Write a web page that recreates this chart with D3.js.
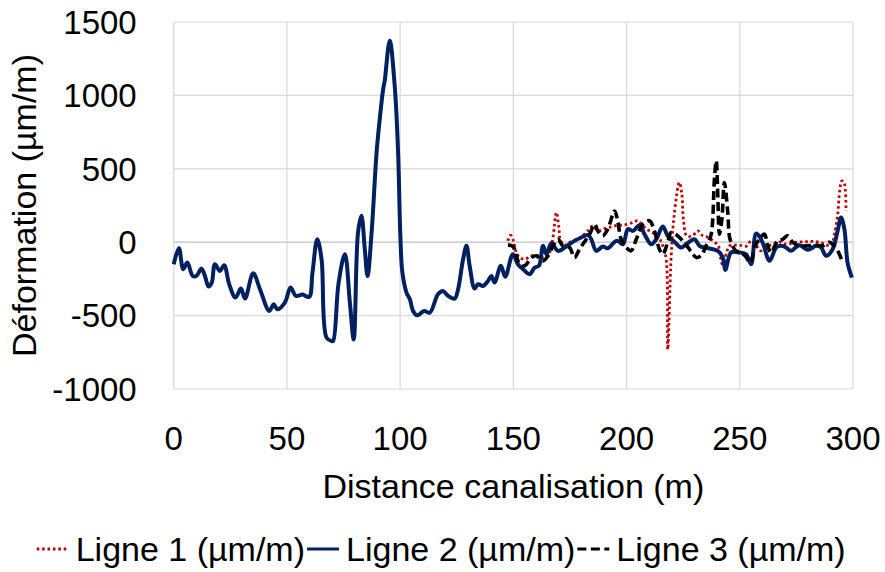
<!DOCTYPE html>
<html>
<head>
<meta charset="utf-8">
<script src="https://cdn.jsdelivr.net/npm/d3@7"></script>
<style>
  body { margin: 0; background: #fff; }
  svg { display: block; font-family: "Liberation Sans", Arial, sans-serif; }
</style>
</head>
<body>
<div id="chart"></div>
<script>
// tick labels
const xTicks = [0, 50, 100, 150, 200, 250, 300];
const yTicks = [-1000, -500, 0, 500, 1000, 1500];

const seriesNames = ["Ligne 1 (µm/m)", "Ligne 2 (µm/m)", "Ligne 3 (µm/m)"];

// [distance (m), déformation (µm/m)]
const ligne1 = [
  [147.6, 9], [148.7, 48], [149.8, 20], [151.3, -70], [152.8, -105], [155, -116],
  [157.2, -100], [159.4, -89], [161.6, -98], [163.8, -109], [166, -70], [167.5, 32],
  [169, 203], [170.1, 100], [170.7, 20], [172.6, -20], [174.8, -2], [177, 14],
  [179.2, 25], [182.9, 77], [185.1, 111], [187.3, 77], [190.2, 92], [193.9, 107],
  [196.1, 116], [198.4, 116], [202.8, 134], [205, 146], [207.2, 112], [210.1, 77],
  [213.8, 43], [216, -25], [217.5, -116], [218.2, -730], [219.7, -93], [221, 180],
  [223.3, 407], [224.4, 330], [225.1, 157], [226.6, 43], [229, 43], [231.5, 77],
  [233.7, 43], [235.9, 34], [238.2, 9], [240.5, -25], [242.3, -150], [245.5, -25],
  [247.7, -20], [249.9, -20], [252.8, -28], [255, 9], [257.2, -22], [259.4, -59],
  [261.6, -34], [264.5, -14], [267.5, 2], [270.4, -14], [274.8, 0], [279.2, 3],
  [282.9, 5], [286.6, -6], [290.3, -25], [291.8, 55], [293.2, 180], [294.2, 361],
  [295.1, 418], [296.1, 405], [296.9, 213]
];

const ligne2 = [
  [0, -150], [2.3, -41], [4.2, -184], [6, -139], [8.4, -230], [10, -230],
  [12.3, -180], [13.8, -230], [15.4, -302], [16.8, -275], [18.2, -150], [20.4, -196],
  [22.3, -157], [24.5, -286], [27.3, -377], [29.7, -316], [31.5, -384], [35.1, -211],
  [38.1, -320], [42.2, -468], [44.2, -423], [45.7, -457], [49.1, -411], [51.6, -309],
  [54, -366], [56.9, -357], [59.8, -373], [61.3, -207], [63.4, 20], [65.3, -116],
  [67.5, -650], [69.7, -673], [70.4, -673], [72.8, -280], [75.6, -82], [77.8, -411],
  [79.5, -662], [81.4, 66], [82.9, 180], [84.4, -48], [85.6, -230], [87.4, 66],
  [89.6, 612], [91, 839], [92.5, 1043], [93.2, 1100], [95.4, 1373], [97.6, 1066],
  [99.1, 612], [100.1, 43], [101, -207], [102.8, -343], [104.3, -389], [105.7, -468],
  [107.6, -498], [110.6, -468], [113.1, -480], [116.7, -355], [118.9, -332], [121.2, -366],
  [124.1, -384], [125.6, -320], [127.8, -116], [129.3, -25], [130.7, -161], [132.9, -316],
  [134.4, -286], [136.6, -298], [138.8, -264], [140.3, -230], [141.7, -275], [144.5, -160],
  [146.4, -235], [149.8, -82], [152, -150], [154.3, -184], [157.2, -218], [159.4, -173],
  [161.3, -161], [163.1, -25], [164.6, -82], [166.8, -7], [169.7, -59], [173.4, -28],
  [177, 9], [180, 32], [182.9, 48], [184.4, 20], [186.6, -59], [189.5, -29],
  [191.7, -41], [194.7, 2], [196.1, 9], [198.4, -14], [200.6, 89], [202.8, 77],
  [205.7, 116], [207.9, 55], [210.9, -14], [213.1, 20], [216, 107], [218.2, 43],
  [221, 5], [224.1, -36], [226.3, -14], [230, 20], [232.2, -25], [234.4, -36],
  [236.6, -43], [240.3, -59], [242.5, -105], [243.6, -190], [246.2, -70], [249.9, -70],
  [252.8, -82], [255, -150], [257.2, 59], [259, 32], [260.6, -25], [263.1, -127],
  [266.2, -34], [268.2, -25], [270.4, -36], [272.6, -59], [276.3, -20], [280, -52],
  [283.7, -25], [285.9, -36], [288.1, -93], [291, -48], [293.2, 77], [294.7, 168],
  [296.2, 89], [297.6, -139], [299.5, -241]
];

const ligne3 = [
  [147.6, -20], [149.8, -28], [152.8, -150], [155, -161], [158, -105], [160.2, -93],
  [163.1, -127], [165.3, -93], [167.5, -25], [169.7, 20], [171.9, -25], [174.8, -36],
  [177, -105], [179.2, -48], [182.2, 20], [183.7, 55], [185.9, 123], [187.3, 77],
  [189.5, 43], [191.7, 89], [194.7, 213], [196.1, 146], [197.6, 20], [199.9, -36],
  [202, -59], [204.3, 20], [207.2, 123], [210.1, 146], [212.3, 77], [214.5, -48],
  [216, -82], [218.2, 0], [219.7, 66], [222.6, 43], [226.6, -25], [228.8, -70],
  [230.8, -105], [233, -90], [235.1, -25], [237.2, 43], [238.8, 430], [239.6, 555],
  [240.3, 316], [241, 55], [242.1, 157], [243.2, 407], [244.7, 203], [245.7, 20],
  [248.3, -59], [249.9, -66], [252.4, -93], [254.6, -139], [256.8, -25], [258.7, 20],
  [260.9, 55], [262.3, -25], [263.8, -70], [266.7, 9], [268.9, 20], [271.1, 43],
  [273.3, 0], [276.3, -25], [279.2, -25], [283.7, -20], [286.6, -25], [289.5, 0],
  [291.7, -25], [294, -82], [295.4, -139]
];

const W = 885, H = 572;
const margin = { top: 22, right: 32, bottom: 183, left: 173.7 };
const width = W - margin.left - margin.right;
const height = H - margin.top - margin.bottom;

const svg = d3.select("#chart")
  .append("svg")
  .attr("width", W)
  .attr("height", H);

const g = svg.append("g")
  .attr("transform", `translate(${margin.left}, ${margin.top})`);

const x = d3.scaleLinear().domain([0, 300]).range([0, width]);
const y = d3.scaleLinear().domain([-1000, 1500]).range([height, 0]);

// gridlines
g.append("g")
  .selectAll("line.h")
  .data(yTicks)
  .join("line")
  .attr("x1", 0).attr("x2", width)
  .attr("y1", d => y(d)).attr("y2", d => y(d))
  .attr("stroke", d => d === 0 ? "#bfbfbf" : "#d9d9d9")
  .attr("stroke-width", 1.2);

g.append("g")
  .selectAll("line.v")
  .data(xTicks)
  .join("line")
  .attr("x1", d => x(d)).attr("x2", d => x(d))
  .attr("y1", 0).attr("y2", height)
  .attr("stroke", "#d9d9d9")
  .attr("stroke-width", 1.2);

// tick labels
g.append("g")
  .selectAll("text")
  .data(yTicks)
  .join("text")
  .attr("x", -37)
  .attr("y", d => y(d))
  .attr("dy", "0.36em")
  .attr("text-anchor", "end")
  .style("font-size", "33px")
  .text(d => d);

g.append("g")
  .selectAll("text")
  .data(xTicks)
  .join("text")
  .attr("x", d => x(d))
  .attr("y", height + 61)
  .attr("text-anchor", "middle")
  .style("font-size", "33px")
  .text(d => d);

// axis titles
g.append("text")
  .attr("x", width / 2)
  .attr("y", height + 109)
  .attr("text-anchor", "middle")
  .style("font-size", "34px")
  .text("Distance canalisation (m)");

g.append("text")
  .attr("text-anchor", "middle")
  .attr("transform", `translate(${36 - margin.left}, ${height / 2}) rotate(-90)`)
  .style("font-size", "34px")
  .text("Déformation (µm/m)");

// series
const line = d3.line()
  .x(d => x(d[0]))
  .y(d => y(d[1]))
  .curve(d3.curveCatmullRom.alpha(0.5));

const styles = [
  { data: ligne1, color: "#c00000", w: 2.8, dash: "2.6,2.8" },
  { data: ligne2, color: "#002060", w: 4, dash: null },
  { data: ligne3, color: "#000000", w: 3.6, dash: "9,4.5" }
];

styles.forEach(s => {
  g.append("path")
    .datum(s.data)
    .attr("fill", "none")
    .attr("stroke", s.color)
    .attr("stroke-width", s.w)
    .attr("stroke-dasharray", s.dash)
    .attr("stroke-linejoin", "round")
    .attr("d", line);
});

// legend
const legend = svg.append("g").attr("transform", "translate(0, 549)");
let lx = 36.7;
styles.forEach((s, i) => {
  legend.append("line")
    .attr("x1", lx).attr("x2", lx + 32)
    .attr("y1", 0).attr("y2", 0)
    .attr("stroke", s.color)
    .attr("stroke-width", Math.min(s.w, 3))
    .attr("stroke-dasharray", s.dash);
  const t = legend.append("text")
    .attr("x", lx + 39)
    .attr("y", 0)
    .attr("dy", "0.36em")
    .style("font-size", "34px")
    .text(seriesNames[i]);
  lx += 39 + t.node().getComputedTextLength() + 2;
});
</script>
</body>
</html>
